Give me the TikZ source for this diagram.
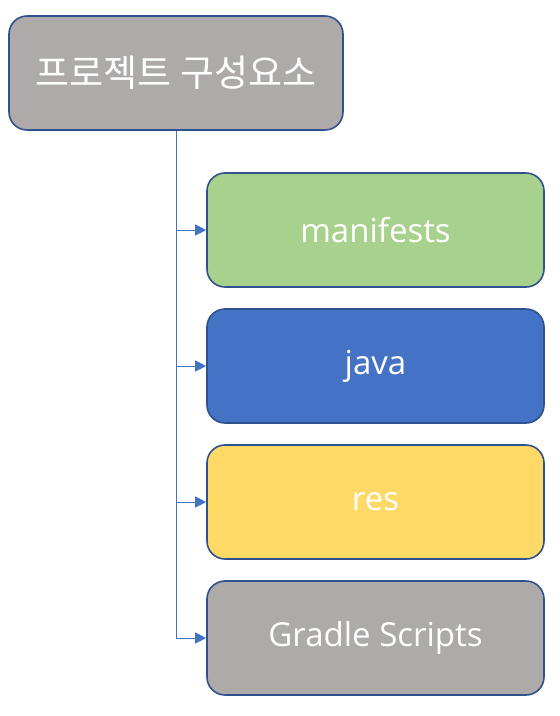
\documentclass[tikz,border=0pt]{standalone}
\usepackage{fontspec}
\setmainfont{Open Sans}
\newfontfamily\kr{Noto Sans CJK KR}
\usetikzlibrary{arrows.meta}
\definecolor{cgray}{HTML}{AEAAAA}
\definecolor{cgreen}{HTML}{A9D18E}
\definecolor{cblue}{HTML}{4472C4}
\definecolor{cyellow}{HTML}{FFD966}
\definecolor{cborder}{HTML}{2F528F}
\begin{document}
\begin{tikzpicture}[x=1pt,y=-1pt,
  boxst/.style={draw=cborder,line width=1.6pt,rounded corners=18pt,minimum width=337pt,minimum height=114pt,text=white,font=\fontsize{33}{38}\selectfont,inner sep=0pt},
  conn/.style={draw=cblue,line width=0.9pt,-{Triangle[length=11pt,width=11pt]}}]
\useasboundingbox (0,0) rectangle (560,716);
\node[boxst,fill=cgray,minimum width=334pt,font=\kr\fontsize{37}{40}\selectfont] (root) at (176,73) {프로젝트 구성요소};
\node[boxst,fill=cgreen] (m) at (375.5,230) {manifests};
\node[boxst,fill=cblue] (j) at (375.5,366) {java};
\node[boxst,fill=cyellow] (r) at (375.5,502) {res};
\node[boxst,fill=cgray] (g) at (375.5,638) {Gradle Scripts};
\draw[conn] (root.south) |- (m.west);
\draw[conn] (root.south) |- (j.west);
\draw[conn] (root.south) |- (r.west);
\draw[conn] (root.south) |- (g.west);
\end{tikzpicture}
\end{document}
